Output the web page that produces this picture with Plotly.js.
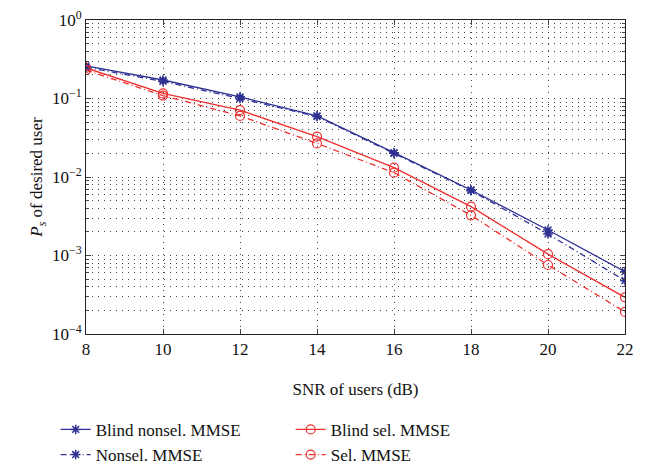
<!DOCTYPE html>
<html><head><meta charset="utf-8">
<script src="https://cdn.plot.ly/plotly-3.0.1.min.js"></script>
<style>html,body{margin:0;padding:0;background:#fff;}#chart{width:655px;height:467px;}</style>
</head><body><div id="chart"></div>
<script>
const snr = [8, 10, 12, 14, 16, 18, 20, 22];
const blindNonsel = [0.26, 0.172, 0.105, 0.060, 0.0204, 0.00683, 0.00211, 0.000622];
const nonsel = [0.25, 0.165, 0.100, 0.059, 0.0200, 0.00670, 0.00188, 0.000478];
const blindSel = [0.245, 0.116, 0.071, 0.0326, 0.01315, 0.00419, 0.00104, 0.000293];
const sel = [0.23, 0.109, 0.060, 0.0268, 0.01135, 0.00325, 0.000757, 0.000191];
const yTickVals = [1e-4, 1e-3, 1e-2, 1e-1, 1];
const yTickText = ['10<sup>−4</sup>', '10<sup>−3</sup>', '10<sup>−2</sup>', '10<sup>−1</sup>', '10<sup>0</sup>'];
const xTicks = [8, 10, 12, 14, 16, 18, 20, 22];

const FAM = "'Liberation Serif', 'DejaVu Serif', serif";
const blue = '#2e3192', red = '#ee2e2e';
const traces = [
  {x: snr, y: blindNonsel, name: 'Blind nonsel. MMSE', mode: 'lines+markers',
   line: {color: blue, width: 1.3, dash: 'solid'}, marker: {symbol: 'asterisk-open', size: 8, color: blue, line: {color: blue, width: 1.5}}},
  {x: snr, y: blindSel, name: 'Blind sel. MMSE', mode: 'lines+markers',
   line: {color: red, width: 1.3, dash: 'solid'}, marker: {symbol: 'circle-open', size: 9, color: red, line: {color: red, width: 1.2}}},
  {x: snr, y: nonsel, name: 'Nonsel. MMSE', mode: 'lines+markers',
   line: {color: blue, width: 1.3, dash: '6px,3px,1px,3px'}, marker: {symbol: 'asterisk-open', size: 8, color: blue, line: {color: blue, width: 1.5}}},
  {x: snr, y: sel, name: 'Sel. MMSE', mode: 'lines+markers',
   line: {color: red, width: 1.3, dash: '6px,3px,1px,3px'}, marker: {symbol: 'circle-open', size: 9, color: red, line: {color: red, width: 1.2}}}
];
const legFont = {family: FAM, size: 17, color: '#111'};
const layout = {
  width: 655, height: 467,
  margin: {l: 86, r: 30, t: 20, b: 133, autoexpand: false},
  paper_bgcolor: '#fff', plot_bgcolor: '#fff',
  font: {family: FAM, size: 17, color: '#111'},
  showlegend: true,
  legend: {orientation: 'h', xref: 'container', yref: 'container', x: 0.085, y: 0.118, xanchor: 'left', yanchor: 'top',
           entrywidth: 190, font: legFont, itemwidth: 30, bgcolor: 'rgba(0,0,0,0)'},
  xaxis: {range: [8, 22], tickvals: xTicks, ticks: 'inside', ticklen: 5, showline: true, mirror: 'ticks',
          linecolor: '#222', linewidth: 1, showgrid: true, gridcolor: '#444', griddash: '1px,5px', gridwidth: 1,
          zeroline: false, tickfont: {family: FAM, size: 17, color: '#111'},
          title: {text: 'SNR of users (dB)', font: {family: FAM, size: 17, color: '#111'}}},
  yaxis: {type: 'log', range: [-4, 0], tickvals: yTickVals, ticktext: yTickText, ticks: 'inside', ticklen: 5,
          showline: true, mirror: 'ticks', linecolor: '#222', linewidth: 1,
          showgrid: true, gridcolor: '#444', griddash: '1px,5px', gridwidth: 1, zeroline: false,
          tickfont: {family: FAM, size: 17, color: '#111'},
          minor: {dtick: 'D1', showgrid: true, gridcolor: '#444', griddash: '1px,5px', gridwidth: 1, ticks: 'inside', ticklen: 3},
          title: {text: '<i>P<sub>s</sub></i> of desired user', font: {family: FAM, size: 17, color: '#111'}}}
};
Plotly.newPlot('chart', traces, layout, {displayModeBar: false, staticPlot: true});
</script></body></html>
